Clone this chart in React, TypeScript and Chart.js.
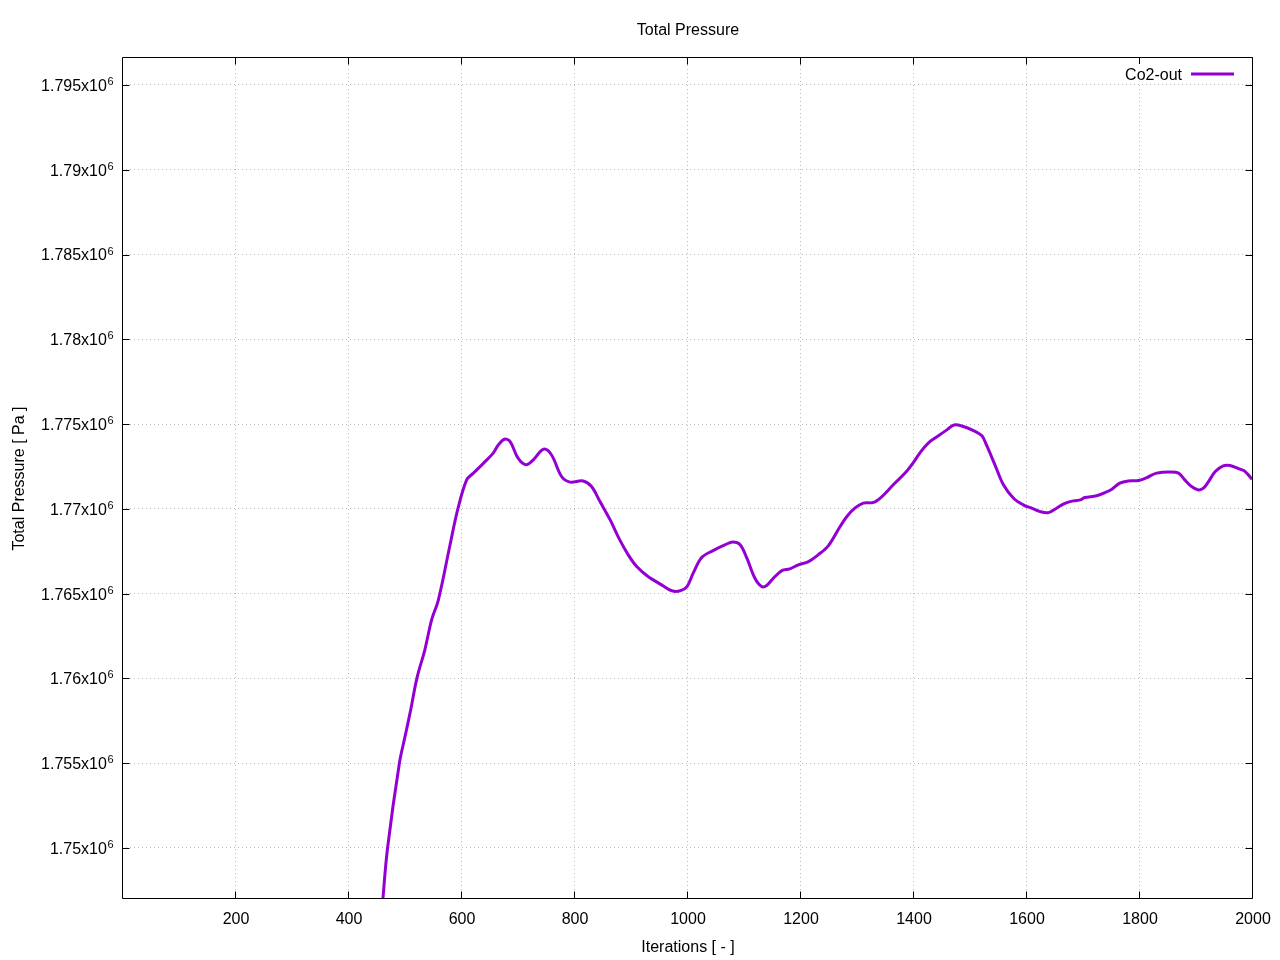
import React, { useEffect, useRef } from "react";
import { Chart, registerables } from "chart.js";

Chart.register(...registerables);

// ---- data ----
const chartTitle = "Total Pressure";
const xAxisTitle = "Iterations [ - ]";
const yAxisTitle = "Total Pressure [ Pa ]";
const seriesLabel = "Co2-out";

const iterations: number[] = [
  440, 462, 470, 491, 501, 511, 522, 536, 548, 560,
  580, 594, 610, 622, 640, 657, 666, 677, 687, 701,
  715, 728, 746, 760, 778, 793, 816, 831, 846, 864,
  881, 896, 911, 931, 955, 973, 988, 1000, 1011, 1026,
  1046, 1067, 1081, 1094, 1106, 1120, 1132, 1141, 1153, 1168,
  1182, 1197, 1215, 1232, 1250, 1271, 1283, 1297, 1312, 1330,
  1345, 1365, 1386, 1400, 1412, 1427, 1445, 1460, 1473, 1489,
  1507, 1522, 1530, 1545, 1560, 1578, 1595, 1610, 1625, 1640,
  1654, 1666, 1678, 1696, 1704, 1725, 1740, 1752, 1766, 1781,
  1799, 1814, 1831, 1855, 1870, 1881, 1893, 1905, 1914, 1923,
  1935, 1949, 1961, 1979, 1988, 2000,
];

const pressure: number[] = [
  1737800, 1747070, 1750000, 1755010, 1756580, 1758150, 1760020, 1761690, 1763460, 1764640,
  1767780, 1769940, 1771710, 1772110, 1772700, 1773290, 1773770, 1774110, 1773970, 1772990,
  1772600, 1772890, 1773520, 1773190, 1771910, 1771580, 1771650, 1771320, 1770430, 1769350,
  1768170, 1767290, 1766600, 1766010, 1765520, 1765170, 1765170, 1765420, 1766210, 1767130,
  1767540, 1767880, 1768040, 1767880, 1767090, 1765920, 1765420, 1765480, 1765920, 1766360,
  1766460, 1766700, 1766890, 1767290, 1767820, 1768960, 1769550, 1770040, 1770340, 1770380,
  1770730, 1771420, 1772110, 1772700, 1773290, 1773880, 1774310, 1774660, 1774950, 1774860,
  1774620, 1774310, 1773770, 1772600, 1771420, 1770630, 1770240, 1770040, 1769840, 1769780,
  1770040, 1770280, 1770430, 1770530, 1770670, 1770770, 1770960, 1771160, 1771520, 1771650,
  1771670, 1771850, 1772110, 1772180, 1772110, 1771710, 1771320, 1771120, 1771220, 1771610,
  1772200, 1772540, 1772560, 1772340, 1772200, 1771750,
];

const xTicks: number[] = [200, 400, 600, 800, 1000, 1200, 1400, 1600, 1800, 2000];
const yTicks: number[] = [1750000, 1755000, 1760000, 1765000, 1770000, 1775000, 1780000, 1785000, 1790000, 1795000];

const X_MIN = 0;
const X_MAX = 2000;
const Y_MIN = 1747051;
const Y_MAX = 1796651;

const LINE_COLOR = "#9400D3";
const FONT_FAMILY = '"Liberation Sans", Arial, Helvetica, sans-serif';
const FONT_SIZE = 16;
const SUP_SIZE = 11;
const TEXT_DY = 1.5;

function mantissa(v: number): string {
  return String(Number((v / 1e6).toFixed(4)));
}

const gnuplotDecor = {
  id: "gnuplotDecor",
  afterDraw(chart: any) {
    const { ctx, chartArea: a, scales } = chart;
    const xs = scales.x;
    const ys = scales.y;
    ctx.save();

    // frame
    ctx.strokeStyle = "#000";
    ctx.lineWidth = 1;
    ctx.setLineDash([]);
    ctx.beginPath();
    ctx.rect(a.left + 0.5, a.top + 0.5, a.right - a.left, a.bottom - a.top);
    ctx.stroke();

    // inward tick marks on all four sides
    const TL = 7;
    ctx.beginPath();
    for (const t of xs.ticks) {
      const px = Math.round(xs.getPixelForValue(t.value)) + 0.5;
      ctx.moveTo(px, a.bottom + 0.5);
      ctx.lineTo(px, a.bottom + 0.5 - TL);
      ctx.moveTo(px, a.top + 0.5);
      ctx.lineTo(px, a.top + 0.5 + TL);
    }
    for (const t of ys.ticks) {
      const py = Math.round(ys.getPixelForValue(t.value)) + 0.5;
      ctx.moveTo(a.left + 0.5, py);
      ctx.lineTo(a.left + 0.5 + TL, py);
      ctx.moveTo(a.right + 0.5, py);
      ctx.lineTo(a.right + 0.5 - TL, py);
    }
    ctx.stroke();

    ctx.fillStyle = "#000";
    const mainFont = `${FONT_SIZE}px ${FONT_FAMILY}`;
    const supFont = `${SUP_SIZE}px ${FONT_FAMILY}`;

    // x tick labels
    ctx.font = mainFont;
    ctx.textAlign = "center";
    ctx.textBaseline = "middle";
    for (const t of xs.ticks) {
      const px = xs.getPixelForValue(t.value);
      ctx.fillText(String(t.value), px + 1, a.bottom + 20 + TEXT_DY);
    }

    // y tick labels with superscript exponent
    const rightEdge = a.left - 8.5;
    for (const t of ys.ticks) {
      const py = ys.getPixelForValue(t.value);
      ctx.font = supFont;
      const supW = ctx.measureText("6").width;
      ctx.textAlign = "right";
      ctx.fillText("6", rightEdge, py - 4.5 + TEXT_DY);
      ctx.font = mainFont;
      ctx.fillText(mantissa(t.value) + "x10", rightEdge - supW - 0.5, py + TEXT_DY);
    }

    // title
    const cx = (a.left + a.right) / 2;
    ctx.font = mainFont;
    ctx.textAlign = "center";
    ctx.fillText(chart.options.plugins.title.text, cx + 1, 29 + TEXT_DY);

    // axis titles
    ctx.fillText(xs.options.title.text, cx + 1, 946 + TEXT_DY);
    ctx.save();
    ctx.translate(18, (a.top + a.bottom) / 2 + 1);
    ctx.rotate(-Math.PI / 2);
    ctx.fillText(ys.options.title.text, 0, TEXT_DY);
    ctx.restore();

    // key (legend) inside top-right
    const ds = chart.data.datasets[0];
    ctx.fillStyle = "#fff";
    ctx.fillRect(1116, 64, 128, 19);
    ctx.fillStyle = "#000";
    ctx.font = mainFont;
    ctx.textAlign = "right";
    ctx.fillText(ds.label, 1182, 74 + TEXT_DY);
    ctx.strokeStyle = ds.borderColor;
    ctx.lineWidth = 3;
    ctx.beginPath();
    ctx.moveTo(1191, 74);
    ctx.lineTo(1234, 74);
    ctx.stroke();

    ctx.restore();
  },
};

export default function App() {
  const canvasRef = useRef<HTMLCanvasElement | null>(null);

  useEffect(() => {
    const canvas = canvasRef.current;
    if (!canvas) return;
    const points = iterations.map((x, i) => ({ x, y: pressure[i] }));
    const chart = new Chart(canvas, {
      type: "line",
      data: {
        datasets: [
          {
            label: seriesLabel,
            data: points,
            borderColor: LINE_COLOR,
            backgroundColor: LINE_COLOR,
            borderWidth: 3,
            pointRadius: 0,
            tension: 0.35,
            fill: false,
            clip: 0,
          } as any,
        ],
      },
      options: {
        responsive: false,
        animation: false,
        devicePixelRatio: 1,
        layout: { padding: { top: 57, right: 28, left: 0, bottom: 0 } },
        plugins: {
          legend: { display: false },
          tooltip: { enabled: false },
          title: { display: false, text: chartTitle },
        },
        scales: {
          x: {
            type: "linear",
            min: X_MIN,
            max: X_MAX,
            title: { display: false, text: xAxisTitle },
            ticks: { display: false },
            afterBuildTicks: (scale: any) => {
              scale.ticks = xTicks.map((v) => ({ value: v }));
            },
            afterFit: (scale: any) => {
              scale.height = 62;
            },
            grid: { color: "#bdbdbd", lineWidth: 1, drawTicks: false, tickLength: 0 },
            border: { display: false, dash: [1, 3] },
          },
          y: {
            type: "linear",
            min: Y_MIN,
            max: Y_MAX,
            title: { display: false, text: yAxisTitle },
            ticks: { display: false },
            afterBuildTicks: (scale: any) => {
              scale.ticks = yTicks.map((v) => ({ value: v }));
            },
            afterFit: (scale: any) => {
              scale.width = 122;
            },
            grid: { color: "#bdbdbd", lineWidth: 1, drawTicks: false, tickLength: 0 },
            border: { display: false, dash: [1, 3] },
          },
        },
      } as any,
      plugins: [gnuplotDecor],
    });
    return () => chart.destroy();
  }, []);

  return (
    <div style={{ position: "fixed", left: 0, top: 0, width: 1280, height: 960, background: "#fff" }}>
      <canvas ref={canvasRef} width={1280} height={960} style={{ display: "block" }} />
    </div>
  );
}
